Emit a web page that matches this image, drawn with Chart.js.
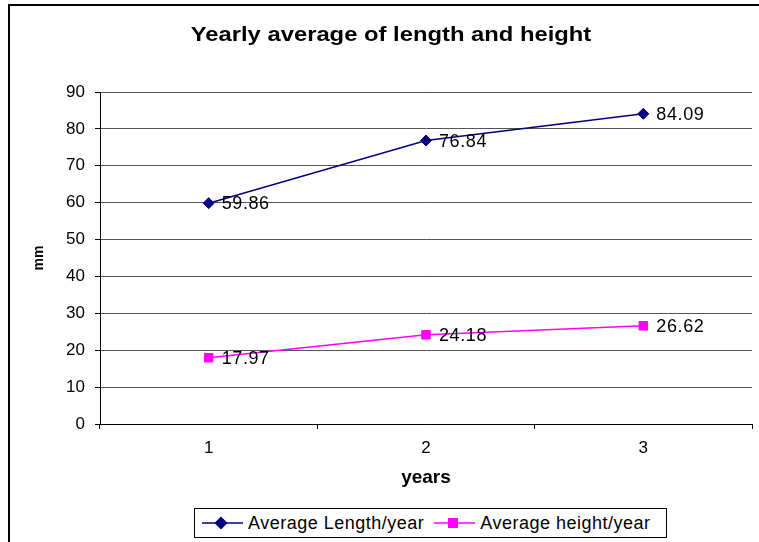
<!DOCTYPE html>
<html>
<head>
<meta charset="utf-8">
<script src="https://cdn.jsdelivr.net/npm/chart.js@4.4.1/dist/chart.umd.min.js"></script>
<style>
html, body { margin: 0; padding: 0; background: #fff; overflow: hidden; }
#wrap { position: relative; width: 759px; height: 542px; overflow: hidden; }
#chart { display: block; position: absolute; left: 0; top: 0; }
#legend {
    position: absolute; left: 194px; top: 508px; width: 464px; height: 28px;
    border: 1px solid #000; background: #fff; display: flex; align-items: center;
    padding-left: 7px; box-sizing: content-box;
    font: 18px "Liberation Sans", Arial, sans-serif; letter-spacing: 0.5px; color: #000;
}
#legend .item { display: flex; align-items: center; }
#legend canvas { margin-right: 5px; }
#legend .item + .item { margin-left: 10px; }
</style>
</head>
<body>
<div id="wrap">
    <canvas id="chart" width="759" height="542"></canvas>
    <div id="legend"></div>
</div>
<script>
const years = ["1", "2", "3"];
const avgLength = [59.86, 76.84, 84.09];
const avgHeight = [17.97, 24.18, 26.62];
const seriesNames = ["Average Length/year", "Average height/year"];
const seriesColors = ["#000080", "#FF00FF"];
const seriesMarkers = ["rectRot", "rect"];
const markerSizes = [5.5, 6];
const chartTitle = "Yearly average of length and height";

const FONT = '"Liberation Sans", Arial, sans-serif';

// outer frame of the chart: only left and top sides are inside the window
const framePlugin = {
    id: "frame",
    afterDraw(chart) {
        const ctx = chart.ctx;
        ctx.save();
        ctx.strokeStyle = "#000";
        ctx.lineWidth = 2;
        ctx.beginPath();
        ctx.moveTo(9, 542);
        ctx.lineTo(9, 5);
        ctx.lineTo(759, 5);
        ctx.stroke();
        ctx.restore();
    },
};

// title, stretched wide like the original
const titlePlugin = {
    id: "wideTitle",
    afterDraw(chart) {
        const ctx = chart.ctx;
        ctx.save();
        ctx.translate(391, 41);
        ctx.scale(1.22, 1);
        ctx.font = "bold 19.5px " + FONT;
        ctx.fillStyle = "#000";
        ctx.textAlign = "center";
        ctx.textBaseline = "alphabetic";
        ctx.fillText(chartTitle, 0, 0);
        ctx.restore();
    },
};

// value labels to the right of each point
const valueLabels = {
    id: "valueLabels",
    afterDatasetsDraw(chart) {
        const ctx = chart.ctx;
        ctx.save();
        ctx.font = "18px " + FONT;
        if ("letterSpacing" in ctx) ctx.letterSpacing = "0.6px";
        ctx.fillStyle = "#000";
        ctx.textAlign = "left";
        ctx.textBaseline = "middle";
        chart.data.datasets.forEach((ds, i) => {
            chart.getDatasetMeta(i).data.forEach((pt, j) => {
                ctx.fillText(ds.data[j].toFixed(2), pt.x + 13, pt.y + 1);
            });
        });
        ctx.restore();
    },
};

const makeDataset = (label, data, idx) => ({
    label: label,
    data: data,
    borderColor: seriesColors[idx],
    backgroundColor: seriesColors[idx],
    borderWidth: 1.5,
    pointStyle: seriesMarkers[idx],
    pointRadius: markerSizes[idx],
    pointBorderWidth: 1,
    pointBorderColor: seriesColors[idx],
    pointBackgroundColor: seriesColors[idx],
    tension: 0,
});

const ctx = document.getElementById("chart").getContext("2d");
const chart = new Chart(ctx, {
    type: "line",
    data: {
        labels: years,
        datasets: [makeDataset(seriesNames[0], avgLength, 0), makeDataset(seriesNames[1], avgHeight, 1)],
    },
    options: {
        responsive: false,
        animation: false,
        layout: { padding: { top: 92, left: 0, right: 0, bottom: 51 } },
        plugins: {
            legend: { display: false },
            title: { display: false },
            tooltip: { enabled: false },
        },
        scales: {
            x: {
                type: "category",
                offset: true,
                afterFit: (scale) => { scale.height = 67; },
                grid: { drawOnChartArea: false, offset: true, drawTicks: true, tickLength: 5, tickColor: "#000" },
                border: { color: "#000", width: 1 },
                ticks: { color: "#000", font: { family: FONT, size: 17 }, padding: 9 },
                title: {
                    display: true, text: "years", color: "#000",
                    font: { family: FONT, size: 19, weight: "bold" },
                    padding: { top: 0, bottom: 2 },
                },
            },
            y: {
                min: 0,
                max: 90,
                afterFit: (scale) => { scale.width = 100; },
                grid: { color: "#555", lineWidth: 1, tickLength: 5, tickColor: "#000" },
                border: { color: "#000", width: 1 },
                ticks: { stepSize: 10, color: "#000", font: { family: FONT, size: 17 }, padding: 10 },
                title: {
                    display: true, text: "mm", color: "#000",
                    font: { family: FONT, size: 14, weight: "bold" },
                    padding: { top: 31, bottom: 0 },
                },
            },
        },
    },
    plugins: [framePlugin, titlePlugin, valueLabels],
});

// legend box under the chart: line + marker, then the series name
const legend = document.getElementById("legend");
chart.data.datasets.forEach((ds, i) => {
    const item = document.createElement("div");
    item.className = "item";
    const sym = document.createElement("canvas");
    sym.width = 41;
    sym.height = 14;
    const c = sym.getContext("2d");
    c.strokeStyle = seriesColors[i];
    c.fillStyle = seriesColors[i];
    c.lineWidth = 1.5;
    c.beginPath();
    c.moveTo(0, 7);
    c.lineTo(41, 7);
    c.stroke();
    Chart.helpers.drawPoint(c, { pointStyle: seriesMarkers[i], radius: markerSizes[i], borderWidth: 1 }, 19, 7);
    c.fill();
    const text = document.createElement("span");
    text.textContent = ds.label;
    item.appendChild(sym);
    item.appendChild(text);
    legend.appendChild(item);
});
</script>
</body>
</html>
